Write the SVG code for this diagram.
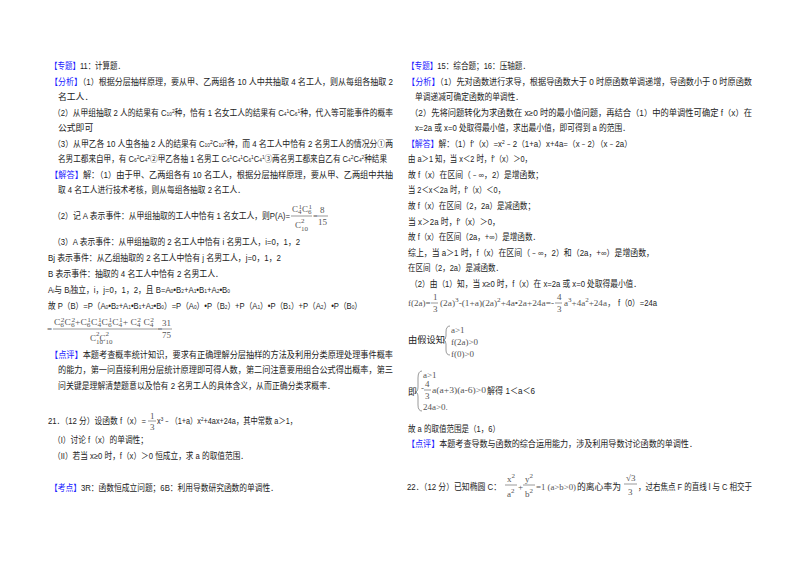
<svg xmlns="http://www.w3.org/2000/svg" width="800" height="565" viewBox="0 0 800 565">
<style>
text{font-family:"Liberation Sans","Noto Sans CJK SC",sans-serif;font-size:8.8px;fill:#222}
.b{fill:#1a1aff}
.s{font-size:5.5px}
.m{font-family:"Liberation Serif","Noto Sans CJK SC",serif;font-size:9px;fill:#555}
.ms{font-family:"Liberation Serif",serif;font-size:7px;fill:#555}
line,path{stroke:#555;stroke-width:0.6;fill:none}
</style>
<rect width="800" height="565" fill="#fff"/>
<g id="left">
<text x="50" y="69" textLength="75" lengthAdjust="spacingAndGlyphs"><tspan class="b">【专题】</tspan>11：计算题．</text>
<text x="50" y="85" textLength="343" lengthAdjust="spacingAndGlyphs"><tspan class="b">【分析】</tspan>（1）根据分层抽样原理，要从甲、乙两组各 10 人中共抽取 4 名工人，则从每组各抽取 2</text>
<text x="58" y="100">名工人．</text>
<text x="53" y="116" textLength="340" lengthAdjust="spacingAndGlyphs">（2）从甲组抽取 2 人的结果有 C<tspan class="s">10</tspan><tspan class="s" dy="-3">2</tspan><tspan dy="3">种，恰有 1 名女工人的结果有 C</tspan><tspan class="s">4</tspan><tspan class="s" dy="-3">1</tspan><tspan dy="3">C</tspan><tspan class="s">6</tspan><tspan class="s" dy="-3">1</tspan><tspan dy="3">种，代入等可能事件的概率</tspan></text>
<text x="58" y="131">公式即可</text>
<text x="53" y="147" textLength="340" lengthAdjust="spacingAndGlyphs">（3）从甲乙各 10 人虫各抽 2 人的结果有 C<tspan class="s">10</tspan><tspan class="s" dy="-3">2</tspan><tspan dy="3">C</tspan><tspan class="s">10</tspan><tspan class="s" dy="-3">2</tspan><tspan dy="3">种，而 4 名工人中恰有 2 名男工人的情况分①两</tspan></text>
<text x="58" y="162" textLength="329" lengthAdjust="spacingAndGlyphs">名男工都来自甲，有 C<tspan class="s">6</tspan><tspan class="s" dy="-3">2</tspan><tspan dy="3">C</tspan><tspan class="s">4</tspan><tspan class="s" dy="-3">2</tspan><tspan dy="3">②甲乙各抽 1 名男工 C</tspan><tspan class="s">6</tspan><tspan class="s" dy="-3">1</tspan><tspan dy="3">C</tspan><tspan class="s">4</tspan><tspan class="s" dy="-3">1</tspan><tspan dy="3">C</tspan><tspan class="s">6</tspan><tspan class="s" dy="-3">1</tspan><tspan dy="3">C</tspan><tspan class="s">4</tspan><tspan class="s" dy="-3">1</tspan><tspan dy="3">③两名男工都来自乙有 C</tspan><tspan class="s">4</tspan><tspan class="s" dy="-3">2</tspan><tspan dy="3">C</tspan><tspan class="s">4</tspan><tspan class="s" dy="-3">2</tspan><tspan dy="3">种结果</tspan></text>
<text x="50" y="178" textLength="343" lengthAdjust="spacingAndGlyphs"><tspan class="b">【解答】</tspan>解：（1）由于甲、乙两组各有 10 名工人，根据分层抽样原理，要从甲、乙两组中共抽</text>
<text x="58" y="193" textLength="187" lengthAdjust="spacingAndGlyphs">取 4 名工人进行技术考核，则从每组各抽取 2 名工人．</text>
<text x="53" y="219" textLength="237" lengthAdjust="spacingAndGlyphs">（2）记 A 表示事件：从甲组抽取的工人中恰有 1 名女工人，则P(A)=</text>
<text class="m" x="292" y="212">C<tspan class="ms" dy="2">4</tspan><tspan class="ms" dy="-5" dx="-3">1</tspan><tspan dy="3">C</tspan><tspan class="ms" dy="2">6</tspan><tspan class="ms" dy="-5" dx="-3">1</tspan></text>
<line x1="291" y1="216" x2="312" y2="216"/>
<text class="m" x="295" y="228">C<tspan class="ms" dy="3">10</tspan><tspan class="ms" dy="-8" dx="-7">2</tspan></text>
<text class="m" x="313" y="219">=</text>
<text class="m" x="320" y="213">8</text><line x1="318" y1="216" x2="328" y2="216"/><text class="m" x="318" y="225">15</text>
<text x="53" y="245" textLength="247" lengthAdjust="spacingAndGlyphs">（3）A 表示事件：从甲组抽取的 2 名工人中恰有 i 名男工人，i=0，1，2</text>
<text x="48" y="261" textLength="233" lengthAdjust="spacingAndGlyphs">Bj 表示事件：从乙组抽取的 2 名工人中恰有 j 名男工人，j=0，1，2</text>
<text x="48" y="277" textLength="175" lengthAdjust="spacingAndGlyphs">B 表示事件：抽取的 4 名工人中恰有 2 名男工人．</text>
<text x="48" y="293" textLength="182" lengthAdjust="spacingAndGlyphs">A<tspan class="s">i</tspan>与 B<tspan class="s">j</tspan>独立，i，j=0，1，2，且 B=A<tspan class="s">0</tspan>•B<tspan class="s">2</tspan>+A<tspan class="s">1</tspan>•B<tspan class="s">1</tspan>+A<tspan class="s">2</tspan>•B<tspan class="s">0</tspan></text>
<text x="48" y="309" textLength="314" lengthAdjust="spacingAndGlyphs">故 P（B）=P（A<tspan class="s">0</tspan>•B<tspan class="s">2</tspan>+A<tspan class="s">1</tspan>•B<tspan class="s">1</tspan>+A<tspan class="s">2</tspan>•B<tspan class="s">0</tspan>）=P（A<tspan class="s">0</tspan>）•P（B<tspan class="s">2</tspan>）+P（A<tspan class="s">1</tspan>）•P（B<tspan class="s">1</tspan>）+P（A<tspan class="s">2</tspan>）•P（B<tspan class="s">0</tspan>）</text>
<text class="m" x="47" y="332">=</text>
<text class="m" x="54" y="325" textLength="100" lengthAdjust="spacingAndGlyphs">C<tspan class="ms" dy="2">6</tspan><tspan class="ms" dy="-5" dx="-3">2</tspan><tspan dy="3">C</tspan><tspan class="ms" dy="2">6</tspan><tspan class="ms" dy="-5" dx="-3">2</tspan><tspan dy="3">+C</tspan><tspan class="ms" dy="2">6</tspan><tspan class="ms" dy="-5" dx="-3">1</tspan><tspan dy="3">C</tspan><tspan class="ms" dy="2">4</tspan><tspan class="ms" dy="-5" dx="-3">1</tspan><tspan dy="3">C</tspan><tspan class="ms" dy="2">6</tspan><tspan class="ms" dy="-5" dx="-3">1</tspan><tspan dy="3">C</tspan><tspan class="ms" dy="2">4</tspan><tspan class="ms" dy="-5" dx="-3">1</tspan><tspan dy="3">+    C</tspan><tspan class="ms" dy="2">4</tspan><tspan class="ms" dy="-5" dx="-3">2</tspan><tspan dy="3">  C</tspan><tspan class="ms" dy="2">4</tspan><tspan class="ms" dy="-5" dx="-3">2</tspan></text>
<line x1="53" y1="329" x2="157" y2="329"/>
<text class="m" x="90" y="341">C<tspan class="ms" dy="3">10</tspan><tspan class="ms" dy="-8" dx="-7">2</tspan><tspan dy="5">C</tspan><tspan class="ms" dy="3">10</tspan><tspan class="ms" dy="-8" dx="-7">2</tspan></text>
<text class="m" x="157" y="332">=</text>
<text class="m" x="162" y="326">31</text><line x1="161" y1="329" x2="172" y2="329"/><text class="m" x="162" y="338">75</text>
<text x="50" y="358" textLength="343" lengthAdjust="spacingAndGlyphs"><tspan class="b">【点评】</tspan>本题考查概率统计知识，要求有正确理解分层抽样的方法及利用分类原理处理事件概率</text>
<text x="58" y="373" textLength="335" lengthAdjust="spacingAndGlyphs">的能力，第一问直接利用分层统计原理即可得人数，第二问注意要用组合公式得出概率，第三</text>
<text x="58" y="389" textLength="277" lengthAdjust="spacingAndGlyphs">问关键是理解清楚题意以及恰有 2 名男工人的具体含义，从而正确分类求概率．</text>
<text x="48" y="424" textLength="98" lengthAdjust="spacingAndGlyphs">21．（12 分）设函数 f（x）=</text>
<text class="m" x="150" y="419">1</text><line x1="148" y1="421" x2="156" y2="421"/><text class="m" x="150" y="430">3</text>
<text x="157" y="424" textLength="140" lengthAdjust="spacingAndGlyphs">x<tspan class="s" dy="-3">3</tspan><tspan dy="3">﹣（1+a）x</tspan><tspan class="s" dy="-3">2</tspan><tspan dy="3">+4ax+24a，其中常数 a＞1，</tspan></text>
<text x="53" y="443" textLength="95" lengthAdjust="spacingAndGlyphs">（I）讨论 f（x）的单调性；</text>
<text x="53" y="459" textLength="195" lengthAdjust="spacingAndGlyphs">（II）若当 x≥0 时，f（x）＞0 恒成立，求 a 的取值范围．</text>
<text x="50" y="491" textLength="228" lengthAdjust="spacingAndGlyphs"><tspan class="b">【考点】</tspan>3R：函数恒成立问题；6B：利用导数研究函数的单调性．</text>
</g>
<g id="right">
<text x="407" y="69" textLength="123" lengthAdjust="spacingAndGlyphs"><tspan class="b">【专题】</tspan>15：综合题；16：压轴题．</text>
<text x="407" y="85" textLength="345" lengthAdjust="spacingAndGlyphs"><tspan class="b">【分析】</tspan>（1）先对函数进行求导，根据导函数大于 0 时原函数单调递增，导函数小于 0 时原函数</text>
<text x="415" y="100" textLength="108" lengthAdjust="spacingAndGlyphs">单调递减可确定函数的单调性．</text>
<text x="410" y="116" textLength="342" lengthAdjust="spacingAndGlyphs">（2）先将问题转化为求函数在 x≥0 时的最小值问题，再结合（1）中的单调性可确定 f（x）在</text>
<text x="415" y="131" textLength="215" lengthAdjust="spacingAndGlyphs">x=2a 或 x=0 处取得最小值，求出最小值，即可得到 a 的范围．</text>
<text x="407" y="147" textLength="225" lengthAdjust="spacingAndGlyphs"><tspan class="b">【解答】</tspan>解：（1）f′（x）=x<tspan class="s" dy="-3">2</tspan><tspan dy="3">﹣2（1+a）x+4a=（x﹣2）（x﹣2a）</tspan></text>
<text x="408" y="162" textLength="124" lengthAdjust="spacingAndGlyphs">由 a＞1 知，当 x＜2 时，f′（x）＞0，</text>
<text x="408" y="178" textLength="135" lengthAdjust="spacingAndGlyphs">故 f（x）在区间（﹣∞，2）是增函数；</text>
<text x="408" y="193" textLength="97" lengthAdjust="spacingAndGlyphs">当 2＜x＜2a 时，f′（x）＜0，</text>
<text x="408" y="209" textLength="127" lengthAdjust="spacingAndGlyphs">故 f（x）在区间（2，2a）是减函数；</text>
<text x="408" y="225" textLength="92" lengthAdjust="spacingAndGlyphs">当 x＞2a 时，f′（x）＞0，</text>
<text x="408" y="240" textLength="132" lengthAdjust="spacingAndGlyphs">故 f（x）在区间（2a，+∞）是增函数．</text>
<text x="408" y="256" textLength="246" lengthAdjust="spacingAndGlyphs">综上，当 a＞1 时，f（x）在区间（﹣∞，2）和（2a，+∞）是增函数，</text>
<text x="408" y="271" textLength="95" lengthAdjust="spacingAndGlyphs">在区间（2，2a）是减函数．</text>
<text x="410" y="287" textLength="231" lengthAdjust="spacingAndGlyphs">（2）由（1）知，当 x≥0 时，f（x）在 x=2a 或 x=0 处取得最小值．</text>
<text class="m" x="408" y="306">f(2a)=</text>
<text class="m" x="433" y="300">1</text><line x1="431" y1="303" x2="438" y2="303"/><text class="m" x="433" y="312">3</text>
<text class="m" x="440" y="306" textLength="114" lengthAdjust="spacingAndGlyphs">(2a)<tspan class="ms" dy="-4">3</tspan><tspan dy="4">-(1+a)(2a)</tspan><tspan class="ms" dy="-4">2</tspan><tspan dy="4">+4a•2a+24a=-</tspan></text>
<text class="m" x="557" y="300">4</text><line x1="555" y1="303" x2="562" y2="303"/><text class="m" x="557" y="312">3</text>
<text class="m" x="564" y="306" textLength="52" lengthAdjust="spacingAndGlyphs">a<tspan class="ms" dy="-4">3</tspan><tspan dy="4">+4a</tspan><tspan class="ms" dy="-4">2</tspan><tspan dy="4">+24a，</tspan></text>
<text x="618" y="306" textLength="39" lengthAdjust="spacingAndGlyphs">f（0）=24a</text>
<text x="408" y="343" textLength="37" lengthAdjust="spacingAndGlyphs">由假设知</text>
<path d="M450,326 Q446,326 446,332 L446,336 Q446,340 443,340 Q446,340 446,344 L446,350 Q446,355 450,355"/>
<text class="m" x="451" y="333">a&gt;1</text>
<text class="m" x="451" y="345">f(2a)&gt;0</text>
<text class="m" x="451" y="357">f(0)&gt;0</text>
<text x="408" y="395">即</text>
<path d="M422,371 Q418,371 418,378 L418,387 Q418,392 415,392 Q418,392 418,397 L418,405 Q418,411 422,411"/>
<text class="m" x="423" y="378">a&gt;1</text>
<text class="m" x="421" y="391">-</text>
<text class="m" x="425" y="387">4</text><line x1="424" y1="390" x2="431" y2="390"/><text class="m" x="425" y="399">3</text>
<text class="m" x="432" y="393" textLength="54" lengthAdjust="spacingAndGlyphs">a(a+3)(a-6)&gt;0</text>
<text x="487" y="394" textLength="48" lengthAdjust="spacingAndGlyphs">解得 1＜a＜6</text>
<text class="m" x="423" y="410">24a&gt;0.</text>
<text x="408" y="432" textLength="92" lengthAdjust="spacingAndGlyphs">故 a 的取值范围是（1，6）</text>
<text x="407" y="447" textLength="290" lengthAdjust="spacingAndGlyphs"><tspan class="b">【点评】</tspan>本题考查导数与函数的综合运用能力，涉及利用导数讨论函数的单调性．</text>
<text x="407" y="490" textLength="94" lengthAdjust="spacingAndGlyphs">22．（12 分）已知椭圆 C：</text>
<text class="m" x="507" y="482">x<tspan class="ms" dy="-4">2</tspan></text><line x1="505" y1="485" x2="517" y2="485"/><text class="m" x="507" y="497">a<tspan class="ms" dy="-4">2</tspan></text>
<text class="m" x="518" y="490">+</text>
<text class="m" x="525" y="482">y<tspan class="ms" dy="-4">2</tspan></text><line x1="523" y1="485" x2="535" y2="485"/><text class="m" x="525" y="497">b<tspan class="ms" dy="-4">2</tspan></text>
<text class="m" x="536" y="490" textLength="40" lengthAdjust="spacingAndGlyphs">=1 (a&gt;b&gt;0)</text>
<text x="577" y="490" textLength="44" lengthAdjust="spacingAndGlyphs">的离心率为</text>
<text class="m" x="626" y="481">√3</text><line x1="624" y1="484" x2="637" y2="484"/><text class="m" x="628" y="495">3</text>
<text x="638" y="490" textLength="114" lengthAdjust="spacingAndGlyphs">，过右焦点 F 的直线 l 与 C 相交于</text>
</g>
</svg>
